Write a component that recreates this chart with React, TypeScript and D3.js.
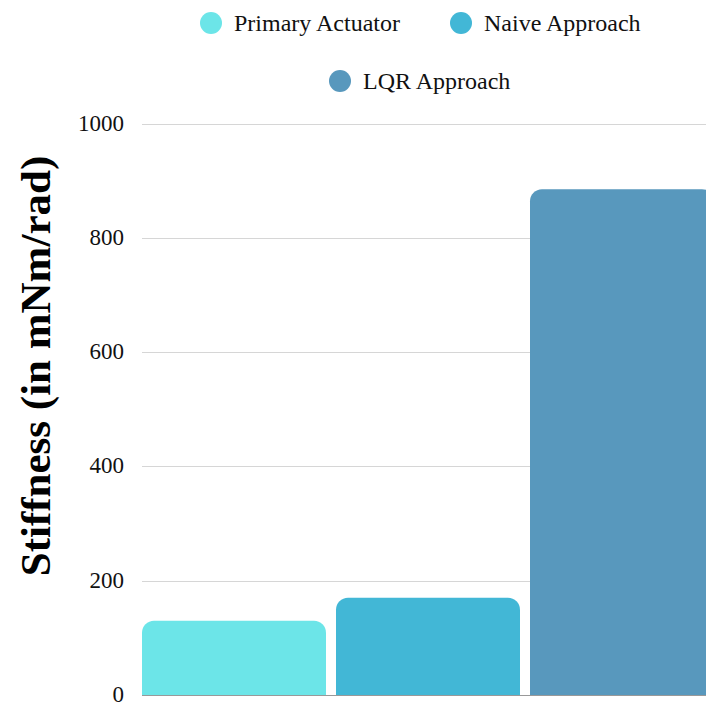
import React from "react";
import * as d3 from "d3";

const categories = ["Primary Actuator", "Naive Approach", "LQR Approach"];
const values = [130, 170, 885];
const colors = ["#6ce5e8", "#42b7d6", "#5898bd"];
const yTicks = [0, 200, 400, 600, 800, 1000];
const yTitle = "Stiffness (in mNm/rad)";

const W = 706;
const H = 704;
const FONT = "'Liberation Serif', 'Times New Roman', serif";

function topRoundedRect(x: number, y: number, w: number, h: number, r: number) {
  const rr = Math.min(r, h, w / 2);
  const p = d3.path();
  p.moveTo(x, y + h);
  p.lineTo(x, y + rr);
  p.arcTo(x, y, x + rr, y, rr);
  p.lineTo(x + w - rr, y);
  p.arcTo(x + w, y, x + w, y + rr, rr);
  p.lineTo(x + w, y + h);
  p.closePath();
  return p.toString();
}

export default function App() {
  const plotLeft = 142;
  const y = d3.scaleLinear().domain([0, 1000]).range([695, 123.5]);
  const x = d3
    .scaleBand<string>()
    .domain(categories)
    .range([137, 137 + 3 * 194])
    .paddingInner(10 / 194)
    .paddingOuter(5 / 194);

  const legendItems = [
    { cx: 211, cy: 23 },
    { cx: 461, cy: 23 },
    { cx: 340, cy: 81 },
  ];

  return (
    <svg
      width={W}
      height={H}
      style={{ position: "absolute", left: 0, top: 0, background: "#fff", overflow: "hidden" }}
      fontFamily={FONT}
    >
      {/* legend */}
      {categories.map((c, i) => (
        <g key={c}>
          <circle cx={legendItems[i].cx} cy={legendItems[i].cy} r={11} fill={colors[i]} />
          <text x={legendItems[i].cx + 23} y={legendItems[i].cy + 8} fontSize={24} fill="#111">
            {c}
          </text>
        </g>
      ))}

      {/* grid lines */}
      {yTicks.map((t) => (
        <line
          key={t}
          x1={plotLeft}
          x2={W}
          y1={Math.round(y(t)) + 0.5}
          y2={Math.round(y(t)) + 0.5}
          stroke={t === 0 ? "#999" : "#d6d6d6"}
          strokeWidth={1}
        />
      ))}

      {/* tick labels */}
      {yTicks.map((t) => (
        <text key={t} x={124} y={y(t) + 7} textAnchor="end" fontSize={23} fill="#111">
          {t}
        </text>
      ))}

      {/* bars */}
      {categories.map((c, i) => (
        <path
          key={c}
          d={topRoundedRect(x(c)!, y(values[i]), x.bandwidth(), y(0) - y(values[i]), 12)}
          fill={colors[i]}
        />
      ))}

      {/* y-axis title */}
      <text
        transform={`translate(50, 366) rotate(-90)`}
        textAnchor="middle"
        fontSize={43}
        fontWeight="bold"
        fill="#000"
      >
        {yTitle}
      </text>
    </svg>
  );
}
